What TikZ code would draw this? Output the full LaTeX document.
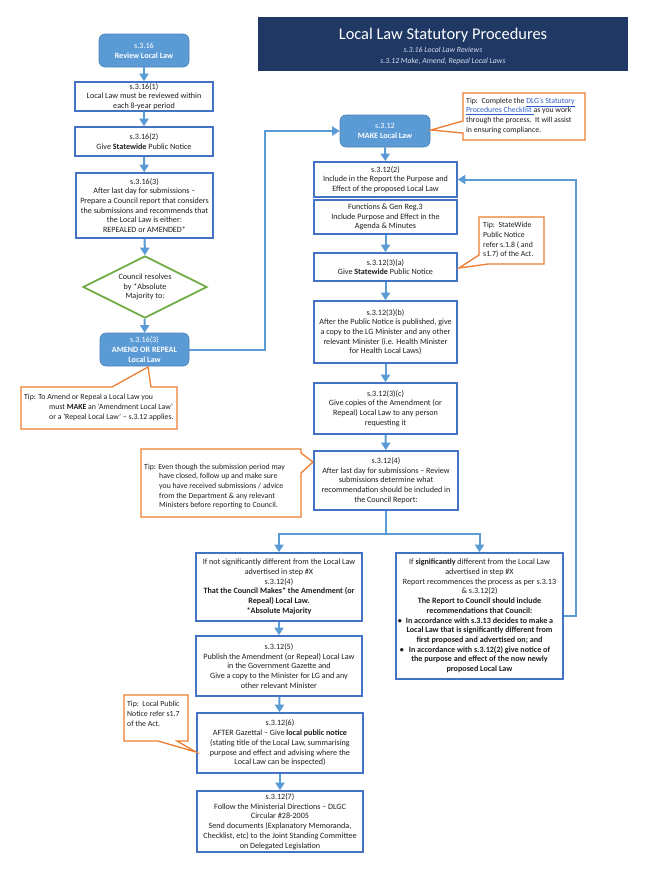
\documentclass[tikz,border=0pt]{standalone}
\usepackage{fontspec}
\setmainfont{Carlito}
\usetikzlibrary{arrows.meta,shapes.geometric}
\definecolor{boxblue}{HTML}{4472C4}
\definecolor{arrblue}{HTML}{5B9BD5}
\definecolor{fillblue}{HTML}{5B9BD5}
\definecolor{tiporange}{HTML}{ED7D31}
\definecolor{navy}{HTML}{1F3864}
\definecolor{dgreen}{HTML}{70AD47}
\definecolor{txt}{HTML}{1E1E1E}
\definecolor{linkblue}{HTML}{2E5FC8}
\definecolor{subt}{HTML}{D6DFF0}
\newcommand{\lnk}[1]{\textcolor{linkblue}{\underline{#1}}}
\begin{document}
\begin{tikzpicture}[x=1pt,y=-1pt,
 every node/.style={font=\fontsize{8.1}{9.7}\selectfont, text=txt, align=center, inner sep=0pt},
 box/.style={draw=boxblue, line width=1.7pt, fill=white, rectangle},
 rbox/.style={draw=arrblue!85!black, line width=0.6pt, fill=fillblue, rounded corners=6pt, text=white},
 arr/.style={draw=arrblue, line width=2pt, -{Triangle[width=9pt,length=7.5pt]}},
 conn/.style={draw=arrblue, line width=2pt},
 tipshape/.style={draw=tiporange, line width=1.3pt, fill=white, line join=miter},
 tiptext/.style={align=left, anchor=north west, font=\fontsize{7.8}{9.7}\selectfont},
]
\useasboundingbox (0,0) rectangle (652,870);

% title banner
\node[fill=navy, minimum width=370pt, minimum height=54pt] (title) at (443,44) {};
\node[text=white, font=\fontsize{16.4}{18}\selectfont] (titletext) at (443,35) {Local Law Statutory Procedures};
\node[text=subt, font=\itshape\fontsize{7.8}{11.5}\selectfont] (subtitle) at (443,56) {s.3.16 Local Law Reviews\\s.3.12 Make, Amend, Repeal Local Laws};

% left column
\node[rbox, minimum width=90pt, minimum height=33pt] (rev) at (144,50.5) {s.3.16\\\textbf{Review Local Law}};
\node[box, minimum width=138pt, minimum height=29pt] (b1) at (144,96.5) {s.3.16(1)\\Local Law must be reviewed within\\each 8-year period};
\node[box, minimum width=138pt, minimum height=29pt] (b2) at (144,141.5) {s.3.16(2)\\Give \textbf{Statewide} Public Notice};
\node[box, minimum width=137pt, minimum height=65pt] (b3) at (144.5,205.5) {s.3.16(3)\\After last day for submissions –\\Prepare a Council report that considers\\the submissions and recommends that\\the Local Law is either:\\REPEALED or AMENDED*};
\node[diamond, draw=dgreen, line width=1.8pt, fill=white, aspect=2, minimum width=124pt, minimum height=62pt] (dia) at (145,287) {Council resolves\\by *Absolute\\Majority to:};
\node[rbox, minimum width=89pt, minimum height=33pt] (amend) at (144.5,349.5) {s.3.16(3)\\\textbf{AMEND OR REPEAL}\\\textbf{Local Law}};

% right column
\node[rbox, minimum width=90pt, minimum height=32pt] (make) at (385,131) {s.3.12\\\textbf{MAKE Local Law}};
\node[box, minimum width=143pt, minimum height=35pt] (c2) at (385.5,179.5) {s.3.12(2)\\Include in the Report the Purpose and\\Effect of the proposed Local Law};
\node[box, minimum width=143pt, minimum height=34pt] (func) at (385.5,217) {Functions \& Gen Reg.3\\Include Purpose and Effect in the\\Agenda \& Minutes};
\node[box, minimum width=143pt, minimum height=28pt] (c3a) at (385.5,267) {s.3.12(3)(a)\\Give \textbf{Statewide} Public Notice};
\node[box, minimum width=143pt, minimum height=62pt] (c3b) at (385.5,332) {s.3.12(3)(b)\\After the Public Notice is published, give\\a copy to the LG Minister and any other\\relevant Minister (i.e. Health Minister\\for Health Local Laws)};
\node[box, minimum width=143pt, minimum height=51pt] (c3c) at (385.5,408.5) {s.3.12(3)(c)\\Give copies of the Amendment (or\\Repeal) Local Law to any person\\requesting it};
\node[box, minimum width=144pt, minimum height=59pt] (c4) at (386,480.5) {s.3.12(4)\\After last day for submissions – Review\\submissions determine what\\recommendation should be included in\\the Council Report:};

% lower boxes
\node[box, minimum width=166pt, minimum height=68pt] (L) at (279,587) {If not significantly different from the Local Law\\advertised in step \#X\\s.3.12(4)\\\textbf{That the Council Makes* the Amendment (or}\\\textbf{Repeal) Local Law.}\\\textbf{*Absolute Majority}};
\node[box, minimum width=166pt, minimum height=60pt] (c5) at (279,666) {s.3.12(5)\\Publish the Amendment (or Repeal) Local Law\\in the Government Gazette and\\Give a copy to the Minister for LG and any\\other relevant Minister};
\node[box, minimum width=166pt, minimum height=60pt] (c6) at (280,743) {s.3.12(6)\\AFTER Gazettal – Give \textbf{local public notice}\\(stating title of the Local Law, summarising\\purpose and effect and advising where the\\Local Law can be inspected)};
\node[box, minimum width=166pt, minimum height=61pt] (c7) at (280,821.5) {s.3.12(7)\\Follow the Ministerial Directions – DLGC\\Circular \#28-2005\\Send documents (Explanatory Memoranda,\\Checklist, etc) to the Joint Standing Committee\\on Delegated Legislation};
\node[box, minimum width=167pt, minimum height=126pt] (R) at (479.5,616) {If \textbf{significantly} different from the Local Law\\advertised in step \#X\\Report recommences the process as per s.3.13\\\& s.3.12(2)\\\textbf{The Report to Council should include}\\\textbf{recommendations that Council:}\\\textbf{\llap{•\hspace{4pt}}In accordance with s.3.13 decides to make a}\\\textbf{Local Law that is significantly different from}\\\textbf{first proposed and advertised on; and}\\\textbf{\llap{•\hspace{5pt}}In accordance with s.3.12(2) give notice of}\\\textbf{the purpose and effect of the now newly}\\\textbf{proposed Local Law}};

% connectors
\draw[arr] (rev) -- (b1);
\draw[arr] (b1) -- (b2);
\draw[arr] (b2) -- (b3);
\draw[arr] (b3) -- (dia);
\draw[arr] (dia) -- (amend);
\draw[arr] (amend.east) -- ++(76,0) |- (make.west);
\draw[arr] (make) -- (c2);
\draw[arr] (func) -- (c3a);
\draw[arr] (c3a) -- (c3b);
\draw[arr] (c3b) -- (c3c);
\draw[arr] (c3c) -- (c4);
\draw[conn] (c4.south) -- ++(0,23) coordinate (split);
\draw[arr] (split) -| (L.north);
\draw[arr] (split) -| (R.north);
\draw[arr] (L) -- (c5);
\draw[arr] (c5) -- (c6);
\draw[arr] (c6) -- (c7);
\draw[arr] (R.east) -- ++(12,0) |- (c2.east);

% tips
\draw[tipshape] (21,387) -- (112,387) -- (148,367) -- (151,387) -- (177,387) -- (177,429) -- (21,429) -- cycle;
\node[tiptext] (tipA) at (24,394) {Tip: To Amend or Repeal a Local Law you\\\hspace*{25pt}must \textbf{MAKE} an ‘Amendment Local Law’\\\hspace*{25pt}or a ‘Repeal Local Law’ – s.3.12 applies.};

\draw[tipshape] (463,93) -- (585,93) -- (585,140) -- (463,140) -- (463,133) -- (431,130) -- (463,121) -- cycle;
\node[tiptext] (tipB) at (466,97.5) {Tip:\ \ Complete the \lnk{DLG’s Statutory}\\\lnk{Procedures Checklist\ }as you work\\through the process.\ \ It will assist\\in ensuring compliance.};

\draw[tipshape] (479,217) -- (544,217) -- (544,264) -- (488,264) -- (459,268) -- (479,255) -- cycle;
\node[tiptext] (tipC) at (483,222) {Tip:\ \ StateWide\\Public Notice\\refer s.1.8 ( and\\s1.7) of the Act.};

\draw[tipshape] (141,449) -- (301,449) -- (301,453) -- (313,462) -- (301,473) -- (301,517) -- (141,517) -- cycle;
\node[tiptext] (tipD) at (144,463.5) {Tip: Even though the submission period may\\\hspace*{15pt}have closed, follow up and make sure\\\hspace*{15pt}you have received submissions / advice\\\hspace*{15pt}from the Department \& any relevant\\\hspace*{15pt}Ministers before reporting to Council.};

\draw[tipshape] (124,695) -- (188,695) -- (188,741) -- (177,741) -- (196,752) -- (158,741) -- (124,741) -- cycle;
\node[tiptext] (tipE) at (127,701) {Tip:\ \ Local Public\\Notice refer s1.7\\of the Act.};
\end{tikzpicture}
\end{document}
